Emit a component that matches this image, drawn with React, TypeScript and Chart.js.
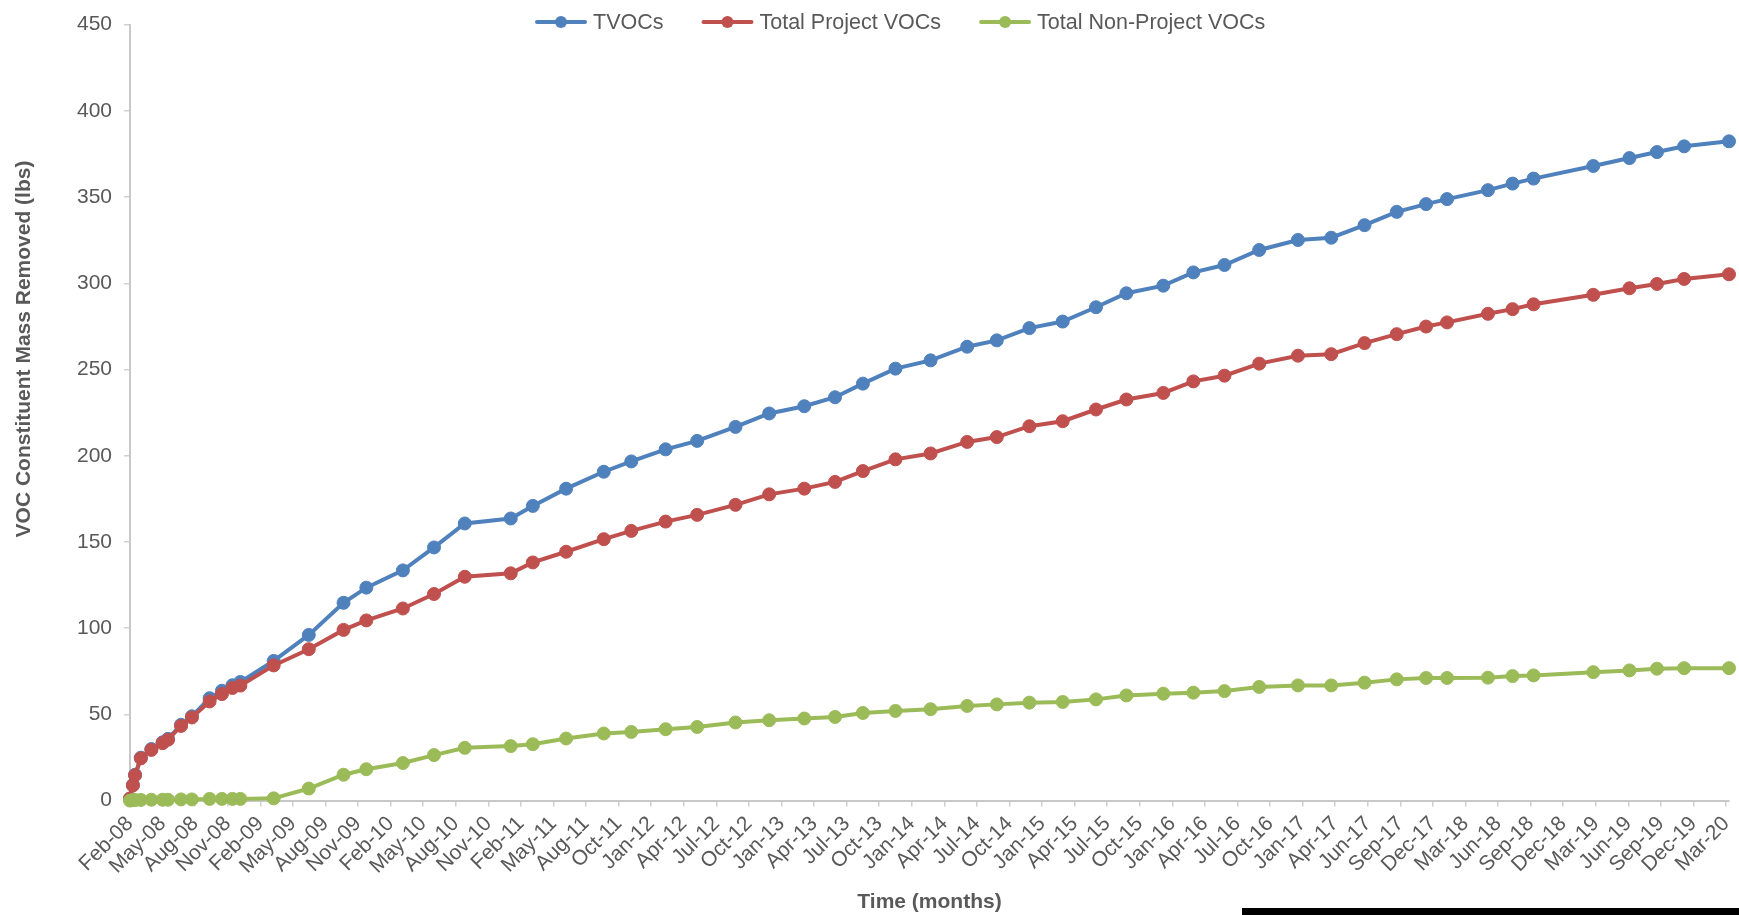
import React, { useEffect, useRef } from "react";
import { Chart, registerables } from "chart.js";

Chart.register(...registerables);

// Axis tick labels (major unit = 90 days from the first sampling date)
const tickLabels = [
  "Feb-08", "May-08", "Aug-08", "Nov-08", "Feb-09", "May-09", "Aug-09", "Nov-09",
  "Feb-10", "May-10", "Aug-10", "Nov-10", "Feb-11", "May-11", "Aug-11", "Oct-11",
  "Jan-12", "Apr-12", "Jul-12", "Oct-12", "Jan-13", "Apr-13", "Jul-13", "Oct-13",
  "Jan-14", "Apr-14", "Jul-14", "Oct-14", "Jan-15", "Apr-15", "Jul-15", "Oct-15",
  "Jan-16", "Apr-16", "Jul-16", "Oct-16", "Jan-17", "Apr-17", "Jun-17", "Sep-17",
  "Dec-17", "Mar-18", "Jun-18", "Sep-18", "Dec-18", "Mar-19", "Jun-19", "Sep-19",
  "Dec-19", "Mar-20",
];
const tickStepDays = 90;
const axisMaxDays = 4418;

// Sampling dates, in days since the first sample (Feb-08)
const dayOffsets = [
  0, 8, 14, 30, 59, 90, 105, 141, 171, 220,
  254, 283, 305, 397, 494, 590, 653, 754,
  840, 925, 1052, 1113, 1205, 1309, 1385, 1480, 1567, 1673,
  1766, 1863, 1948, 2025, 2115, 2212, 2313,
  2395, 2485, 2577, 2669, 2753, 2855, 2938, 3024, 3120, 3227,
  3319, 3411, 3500, 3581, 3639, 3752, 3820, 3878, 4043, 4143,
  4219, 4294, 4418,
];

const tvocs = [
  1.2, 9.1, 15.0, 24.9, 29.9, 33.8, 35.8, 44.0, 48.9, 59.4,
  63.7, 66.9, 68.8, 81.0, 96.1, 114.7, 123.5, 133.5,
  146.8, 160.7, 163.6, 170.9, 180.9, 190.7, 196.7, 203.7, 208.6, 216.7,
  224.5, 228.7, 233.9, 241.8, 250.5, 255.3, 263.2,
  266.9, 274.0, 277.8, 286.1, 294.2, 298.6, 306.3, 310.6, 319.3, 325.1,
  326.4, 333.7, 341.4, 345.9, 348.8, 354.0, 357.8, 360.7, 368.0, 372.6,
  376.1, 379.4, 382.3,
];

const projectVocs = [
  1.2, 8.8, 14.7, 24.5, 29.4, 33.3, 35.3, 43.3, 48.2, 57.5,
  61.8, 65.3, 66.7, 78.4, 87.8, 99.0, 104.5, 111.4,
  119.8, 129.8, 131.8, 138.1, 144.3, 151.6, 156.4, 161.8, 165.7, 171.5,
  177.6, 180.9, 184.8, 191.1, 197.9, 201.3, 208.0,
  210.8, 217.1, 220.0, 226.8, 232.6, 236.4, 243.1, 246.4, 253.4, 258.0,
  258.9, 265.3, 270.5, 274.9, 277.3, 282.3, 285.0, 287.8, 293.3, 297.1,
  299.6, 302.5, 305.2,
];

const nonProjectVocs = [
  0, 0.3, 0.3, 0.4, 0.5, 0.5, 0.5, 0.7, 0.7, 1.0,
  1.0, 1.0, 1.0, 1.3, 7.0, 15.0, 18.2, 21.8,
  26.4, 30.6, 31.6, 32.7, 36.0, 38.9, 39.8, 41.4, 42.7, 45.3,
  46.6, 47.6, 48.5, 50.8, 52.0, 53.0, 54.9,
  55.8, 56.8, 57.2, 58.7, 61.0, 62.0, 62.6, 63.5, 65.9, 66.8,
  66.8, 68.4, 70.3, 71.1, 71.1, 71.3, 72.2, 72.6, 74.5, 75.5,
  76.5, 76.8, 76.8,
];

const seriesNames = ["TVOCs", "Total Project VOCs", "Total Non-Project VOCs"];
const seriesColors = ["#4F81BD", "#C0504D", "#9BBB59"];
const yTitle = "VOC Constituent Mass Removed (lbs)";
const xTitle = "Time (months)";

const FONT = '"Liberation Sans", Arial, Helvetica, sans-serif';
const TEXT = "#595959";

const decorPlugin = {
  id: "decor",
  afterDraw(chart: any) {
    const ctx: CanvasRenderingContext2D = chart.ctx;
    ctx.save();
    // legend
    ctx.font = `21.5px ${FONT}`;
    const sym = 48, gap = 8, spacing = 40;
    let x = 537;
    const y = 22;
    for (const ds of chart.data.datasets as any[]) {
      const color = ds.borderColor as string;
      const w = ctx.measureText(ds.label).width;
      ctx.strokeStyle = color;
      ctx.lineWidth = 4;
      ctx.lineCap = "round";
      ctx.beginPath();
      ctx.moveTo(x, y);
      ctx.lineTo(x + sym, y);
      ctx.stroke();
      ctx.fillStyle = color;
      ctx.beginPath();
      ctx.arc(x + sym / 2, y, 6, 0, Math.PI * 2);
      ctx.fill();
      ctx.fillStyle = TEXT;
      ctx.textAlign = "left";
      ctx.textBaseline = "middle";
      ctx.fillText(ds.label, x + sym + gap, y + 1);
      x += sym + gap + w + spacing;
    }
    // y axis title
    ctx.save();
    ctx.translate(24, 349);
    ctx.rotate(-Math.PI / 2);
    ctx.font = `bold 21px ${FONT}`;
    ctx.fillStyle = TEXT;
    ctx.textAlign = "center";
    ctx.textBaseline = "middle";
    ctx.fillText(yTitle, 0, 0);
    ctx.restore();
    // black bar at bottom right
    ctx.fillStyle = "#000";
    ctx.fillRect(1242, 908, 1739 - 1242, 7);
    ctx.restore();
  },
};

export default function App() {
  const ref = useRef<HTMLCanvasElement | null>(null);

  useEffect(() => {
    if (!ref.current) return;
    const series = [tvocs, projectVocs, nonProjectVocs];
    const chart = new Chart(ref.current, {
      type: "line",
      data: {
        datasets: series.map((vals, s) => ({
          label: seriesNames[s],
          data: dayOffsets.map((d, i) => ({ x: d, y: vals[i] })),
          borderColor: seriesColors[s],
          backgroundColor: seriesColors[s],
          pointBackgroundColor: seriesColors[s],
          pointBorderColor: seriesColors[s],
          borderWidth: 4,
          pointRadius: 6.5,
          pointBorderWidth: 1,
          tension: 0,
          clip: false as any,
          order: 3 - s,
        })),
      },
      options: {
        animation: false,
        responsive: true,
        maintainAspectRatio: false,
        layout: { padding: { top: 22, right: 10, bottom: 0, left: 0 } },
        plugins: {
          legend: { display: false },
          tooltip: { enabled: false },
        },
        scales: {
          x: {
            type: "linear",
            min: 0,
            max: axisMaxDays,
            afterBuildTicks: (scale: any) => {
              scale.ticks = tickLabels.map((_, i) => ({ value: i * tickStepDays }));
            },
            afterFit: (scale: any) => {
              scale.height = 915 - 800.6;
              scale.paddingLeft = 0;
              scale.paddingRight = 0;
            },
            ticks: {
              autoSkip: false,
              minRotation: 45,
              maxRotation: 45,
              padding: 5,
              color: TEXT,
              font: { family: FONT, size: 21 },
              callback: (value: any) =>
                tickLabels[Math.round(Number(value) / tickStepDays)] ?? "",
            },
            grid: {
              drawOnChartArea: false,
              drawTicks: true,
              tickLength: 6,
              color: "#D0D0D0",
              lineWidth: 1.5,
            },
            border: { display: true, color: "#C8C8C8", width: 2 },
            title: {
              display: true,
              text: xTitle,
              color: TEXT,
              font: { family: FONT, size: 21, weight: "bold" },
              padding: { top: 0, bottom: 0 },
            },
          },
          y: {
            min: 0,
            max: 450,
            afterFit: (scale: any) => {
              scale.width = 130;
            },
            ticks: {
              stepSize: 50,
              padding: 12,
              color: TEXT,
              font: { family: FONT, size: 21 },
            },
            grid: {
              drawOnChartArea: false,
              drawTicks: true,
              tickLength: 6,
              color: "#D0D0D0",
              lineWidth: 1.5,
            },
            border: { display: true, color: "#C8C8C8", width: 2 },
          },
        },
      },
      plugins: [decorPlugin],
    });
    return () => chart.destroy();
  }, []);

  return (
    <div
      style={{
        position: "fixed",
        left: 0,
        top: 0,
        width: 1739,
        height: 915,
        background: "#fff",
      }}
    >
      <canvas ref={ref} />
    </div>
  );
}
